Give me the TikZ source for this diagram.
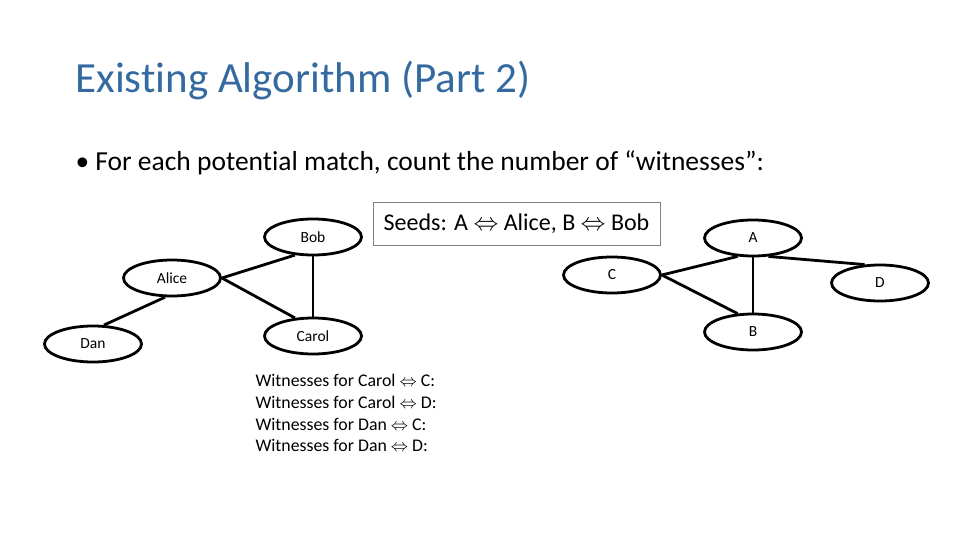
\documentclass[tikz,border=0pt]{standalone}
\usepackage{fontspec}
\setmainfont[RawFeature={-liga}]{Carlito}
\usetikzlibrary{shapes.geometric}
\begin{document}
\begin{tikzpicture}[x=1pt,y=-1pt,
  nd/.style={ellipse,draw,line width=2.8pt,minimum width=97pt,minimum height=36pt,inner sep=0pt,font=\fontsize{15.5}{18}\selectfont},
  ed/.style={line width=2.8pt}]
\useasboundingbox (0,0) rectangle (960,540);
\node[anchor=west,font=\fontsize{43}{48}\selectfont] (title) at (72,80) {\color[RGB]{52,106,160}Existing Algorithm (Part 2)};
\node[anchor=west,font=\fontsize{27.5}{30}\selectfont] (bul) at (72,163) {\textbullet\ For each potential match, count the number of “witnesses”:};
\node[draw=gray,line width=0.8pt,minimum width=287pt,minimum height=43pt,font=\fontsize{24}{28}\selectfont] (seeds) at (516.5,223.5) {Seeds: A $\Leftrightarrow$ Alice, B $\Leftrightarrow$ Bob};
\node[nd] (Bob) at (313,237) {Bob};
\node[nd] (Alice) at (172,278) {Alice};
\node[nd] (Dan) at (93,344) {Dan};
\node[nd] (Carol) at (313,336) {Carol};
\node[nd] (A) at (753,238) {A};
\node[nd] (C) at (612,275) {C};
\node[nd] (D) at (880,283) {D};
\node[nd] (B) at (753,332) {B};
\draw[ed] (Alice.east) -- (Bob.-135);
\draw[ed] (Alice.east) -- (Carol.135);
\draw[ed] (Bob) -- (Carol);
\draw[ed] (Alice.-110) -- (Dan.60);
\draw[ed] (C.east) -- (A.-130);
\draw[ed] (C.east) -- (B.130);
\draw[ed] (A) -- (B);
\draw[ed] (A.-50) -- (D.130);
\node[anchor=north west,align=left,font=\fontsize{17.8}{21.7}\selectfont] (wit) at (252,371)
{Witnesses for Carol $\Leftrightarrow$ C:\\Witnesses for Carol $\Leftrightarrow$ D:\\Witnesses for Dan $\Leftrightarrow$ C:\\Witnesses for Dan $\Leftrightarrow$ D:};
\end{tikzpicture}
\end{document}
